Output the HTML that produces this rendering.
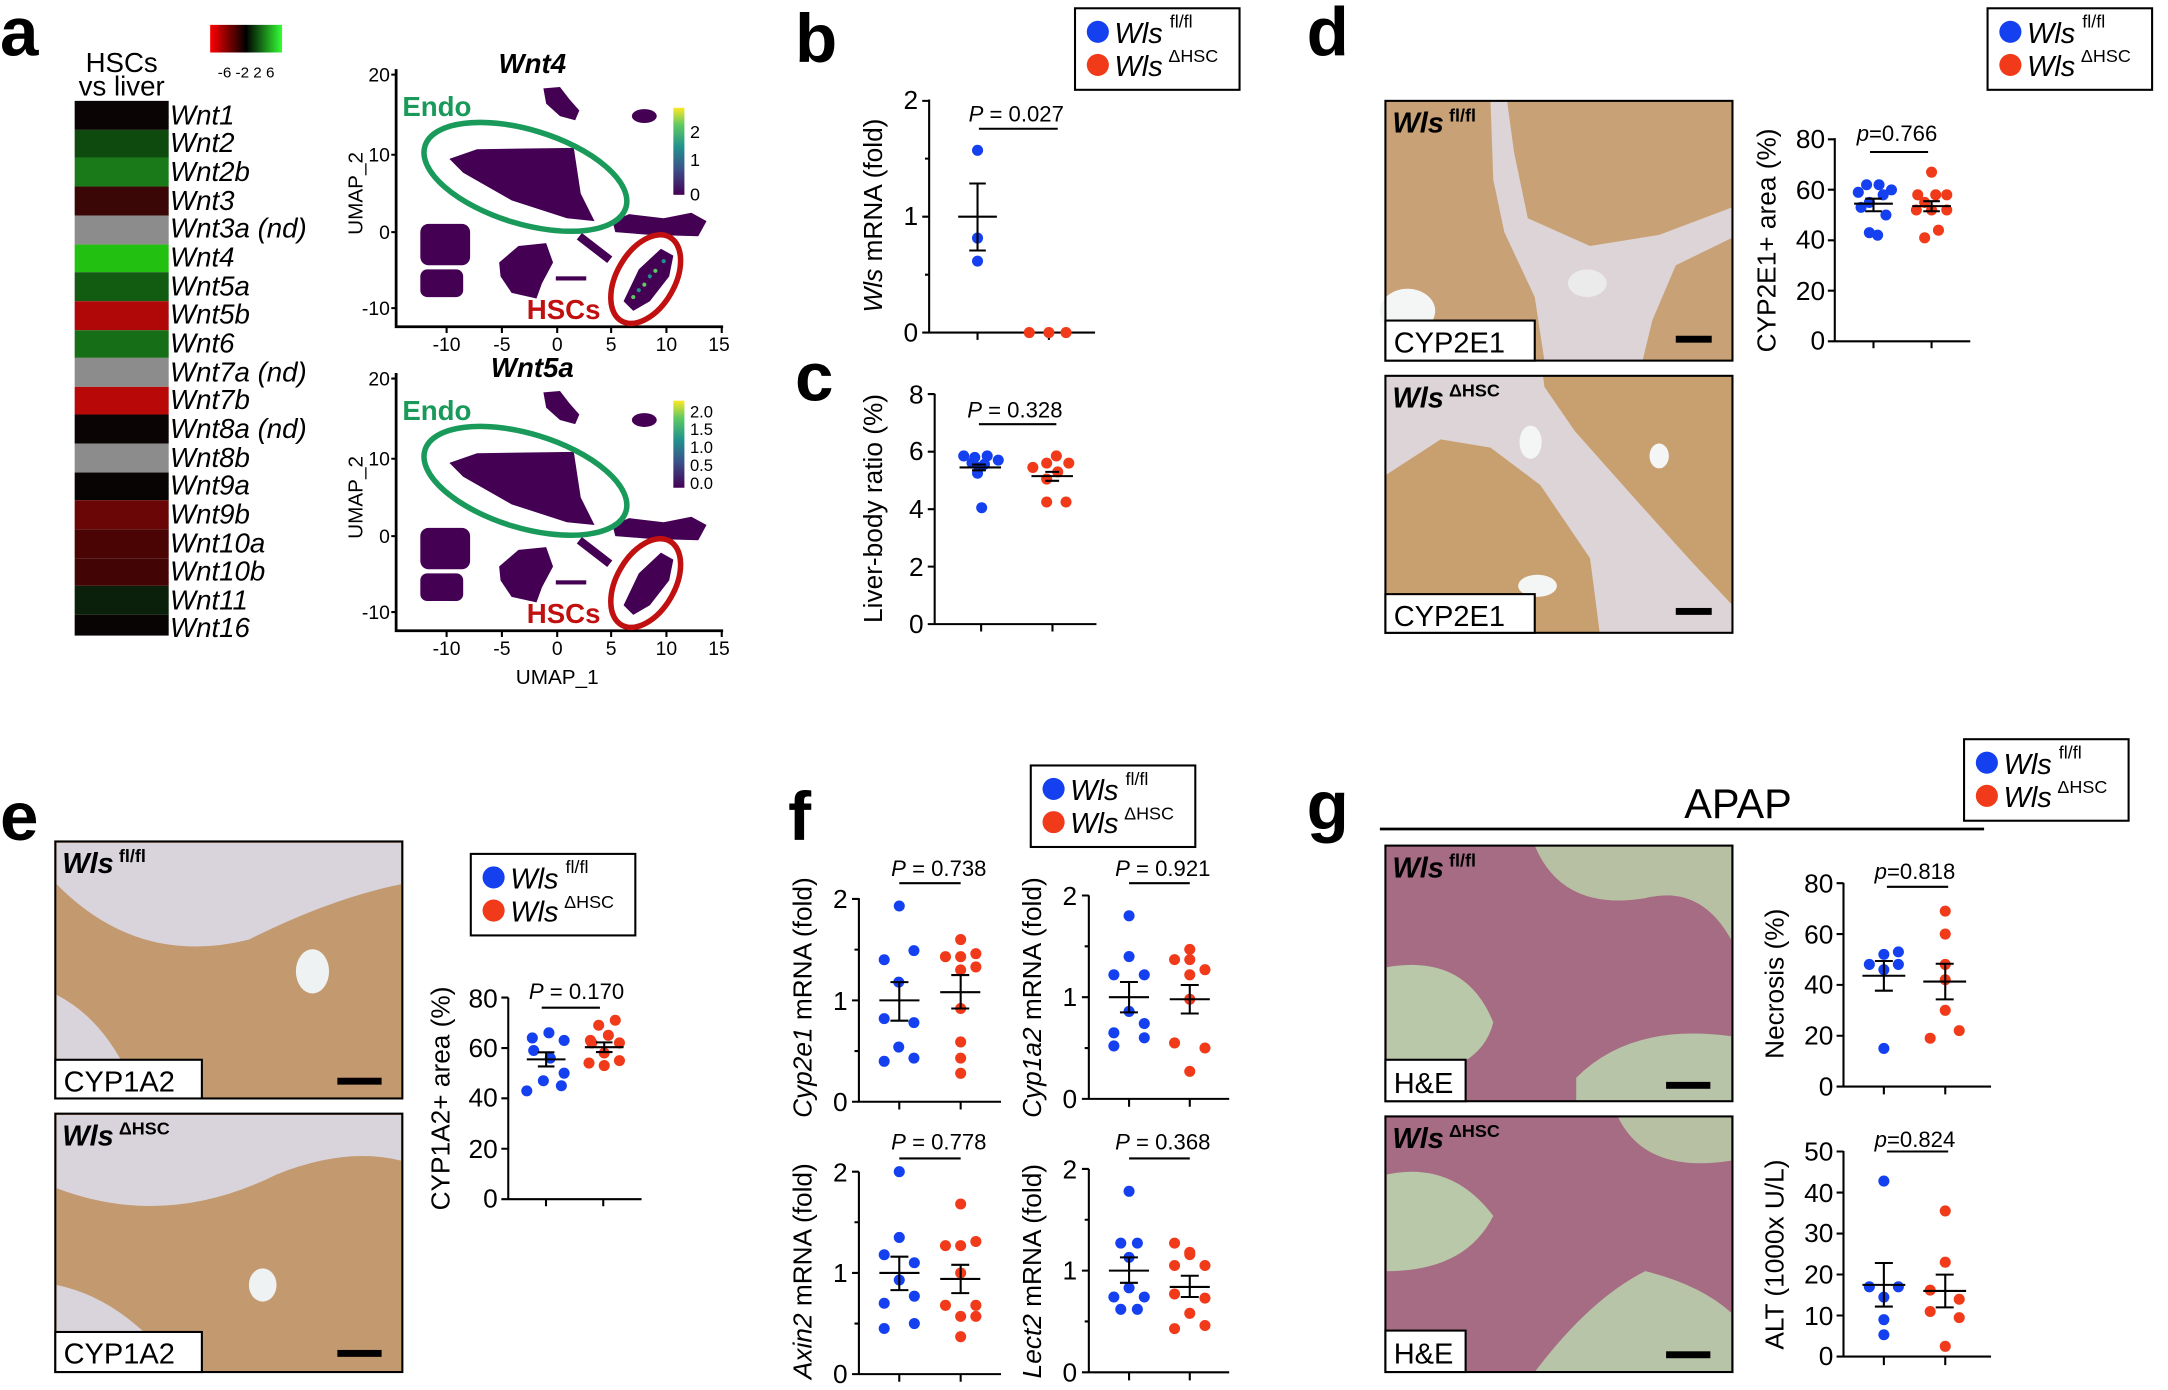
<!DOCTYPE html><html><head><style>body{margin:0;background:#fff}svg{display:block}text{font-family:"Liberation Sans",sans-serif}</style></head><body>
<svg width="2168" height="1390" viewBox="0 0 1568 1006" preserveAspectRatio="none" xmlns="http://www.w3.org/2000/svg">
<defs>
<linearGradient id="cb" x1="0" y1="0" x2="1" y2="0"><stop offset="0" stop-color="#f00"/><stop offset=".5" stop-color="#000"/><stop offset="1" stop-color="#3f3"/></linearGradient>
<linearGradient id="vir" x1="0" y1="1" x2="0" y2="0"><stop offset="0" stop-color="#440154"/><stop offset=".3" stop-color="#3b528b"/><stop offset=".55" stop-color="#21918c"/><stop offset=".8" stop-color="#5ec962"/><stop offset="1" stop-color="#fde725"/></linearGradient>
<g id="clu" fill="#440154">
<path d="M325 115L345 108L415 107L420 140L430 160L410 158L370 145L335 125Z"/>
<path d="M393 64L405 63L412 72L419 80L416 87L405 84L395 75Z"/>
<ellipse cx="466" cy="84" rx="9" ry="5"/>
<path d="M443 160L455 155L480 158L500 154L511 160L505 171L470 170L445 168Z"/>
<rect x="304" y="162" width="36" height="30" rx="6"/><rect x="304" y="195" width="31" height="20" rx="5"/>
<path d="M361 190L375 178L395 176L400 190L392 205L388 216L370 212L362 200Z"/>
<path d="M419 171L441 188" stroke="#440154" stroke-width="6"/>
<rect x="402" y="200" width="22" height="3"/>
<path d="M451 218L462 195L478 180L487 185L484 200L470 218L458 225Z"/>
</g>
</defs>
<g font-weight="bold" font-size="50">
<text x="0" y="40">a</text><text x="575" y="45">b</text><text x="575" y="290">c</text><text x="945" y="40">d</text><text x="0" y="608">e</text><text x="570" y="608">f</text><text x="945" y="600">g</text></g>
<!-- heatmap -->
<text x="88" y="52" font-size="20" text-anchor="middle">HSCs</text><text x="88" y="69" font-size="20" text-anchor="middle">vs liver</text>
<rect x="152" y="18" width="52" height="20" fill="url(#cb)"/>
<text x="178" y="56" font-size="11" text-anchor="middle">-6 -2  2  6</text>
<g>
<rect x="54" y="73" width="68" height="21" fill="#0a0404"/>
<rect x="54" y="94" width="68" height="20" fill="#0e4a0e"/>
<rect x="54" y="114" width="68" height="21" fill="#1a7a1a"/>
<rect x="54" y="135" width="68" height="21" fill="#3a0606"/>
<rect x="54" y="156" width="68" height="21" fill="#8c8c8c"/>
<rect x="54" y="177" width="68" height="20" fill="#22c010"/>
<rect x="54" y="197" width="68" height="21" fill="#125c12"/>
<rect x="54" y="218" width="68" height="21" fill="#b00808"/>
<rect x="54" y="239" width="68" height="20" fill="#166e16"/>
<rect x="54" y="259" width="68" height="21" fill="#8c8c8c"/>
<rect x="54" y="280" width="68" height="20" fill="#b80808"/>
<rect x="54" y="300" width="68" height="21" fill="#0a0404"/>
<rect x="54" y="321" width="68" height="21" fill="#8c8c8c"/>
<rect x="54" y="342" width="68" height="20" fill="#080404"/>
<rect x="54" y="362" width="68" height="21" fill="#6a0606"/>
<rect x="54" y="383" width="68" height="21" fill="#4a0404"/>
<rect x="54" y="404" width="68" height="20" fill="#420404"/>
<rect x="54" y="424" width="68" height="21" fill="#0a200a"/>
<rect x="54" y="445" width="68" height="15" fill="#080404"/>
</g>
<g font-size="20" font-style="italic">
<text x="123" y="90">Wnt1</text><text x="123" y="110">Wnt2</text><text x="123" y="131">Wnt2b</text><text x="123" y="152">Wnt3</text><text x="123" y="172">Wnt3a (nd)</text><text x="123" y="193">Wnt4</text><text x="123" y="214">Wnt5a</text><text x="123" y="234">Wnt5b</text><text x="123" y="255">Wnt6</text><text x="123" y="276">Wnt7a (nd)</text><text x="123" y="296">Wnt7b</text><text x="123" y="317">Wnt8a (nd)</text><text x="123" y="338">Wnt8b</text><text x="123" y="358">Wnt9a</text><text x="123" y="379">Wnt9b</text><text x="123" y="400">Wnt10a</text><text x="123" y="420">Wnt10b</text><text x="123" y="441">Wnt11</text><text x="123" y="461">Wnt16</text></g>
<!-- UMAP top -->
<g id="umap">
<path d="M286.5 50V236.5H523" fill="none" stroke="#000" stroke-width="2"/>
<path d="M283 54H287M283 112H287M283 168H287M283 223H287M323 237V241M363 237V241M403 237V241M442 237V241M482 237V241M522 237V241" stroke="#000" stroke-width="1.5"/>
<use href="#clu"/>
<g font-size="14" text-anchor="middle"><text x="323" y="254">-10</text><text x="363" y="254">-5</text><text x="403" y="254">0</text><text x="442" y="254">5</text><text x="482" y="254">10</text><text x="520" y="254">15</text></g>
<g font-size="14" text-anchor="end"><text x="282" y="59">20</text><text x="282" y="117">10</text><text x="282" y="173">0</text><text x="282" y="228">-10</text></g>
<text transform="translate(262 140) rotate(-90)" font-size="15" text-anchor="middle">UMAP_2</text>
<ellipse cx="380" cy="128" rx="76" ry="34" transform="rotate(17 380 128)" fill="none" stroke="#1a9a5a" stroke-width="4"/>
<ellipse cx="467" cy="202" rx="35" ry="21" transform="rotate(-60 467 202)" fill="none" stroke="#c01010" stroke-width="4"/>
<text x="291" y="84" font-size="20" font-weight="bold" fill="#1a9a5a">Endo</text>
<text x="381" y="231" font-size="20" font-weight="bold" fill="#c01010">HSCs</text>
</g>
<g fill="#5ec962"><circle cx="458" cy="215" r="1.5"/><circle cx="466" cy="206" r="1.5"/><circle cx="474" cy="196" r="1.5"/></g>
<g fill="#21918c"><circle cx="462" cy="210" r="1.5"/><circle cx="470" cy="200" r="1.5"/><circle cx="480" cy="189" r="1.5"/></g>
<rect x="487" y="78" width="8" height="63" fill="url(#vir)"/>
<text x="499" y="100" font-size="13">2</text><text x="499" y="120" font-size="13">1</text><text x="499" y="145" font-size="13">0</text>
<text x="385" y="53" font-size="20" font-weight="bold" font-style="italic" text-anchor="middle">Wnt4</text>
<use href="#umap" y="220"/>
<rect x="487" y="290" width="8" height="63" fill="url(#vir)"/>
<g font-size="12"><text x="499" y="302">2.0</text><text x="499" y="315">1.5</text><text x="499" y="328">1.0</text><text x="499" y="341">0.5</text><text x="499" y="354">0.0</text></g>
<text x="385" y="273" font-size="20" font-weight="bold" font-style="italic" text-anchor="middle">Wnt5a</text>
<text x="403" y="495" font-size="15" text-anchor="middle">UMAP_1</text>
<!-- legends -->
<g id="lg">
<rect x="777.5" y="6" width="119" height="59" fill="#fff" stroke="#000" stroke-width="1.5"/>
<circle cx="794" cy="23" r="8" fill="#1540f0"/><circle cx="794" cy="47" r="8" fill="#f03a1a"/>
<text x="806" y="31" font-size="21" font-style="italic">Wls</text><text x="846" y="20" font-size="13">fl/fl</text>
<text x="806" y="55" font-size="21" font-style="italic">Wls</text><text x="845" y="45" font-size="13">ΔHSC</text>
</g>
<use href="#lg" x="660" y="0"/><use href="#lg" x="-437" y="612"/><use href="#lg" x="-32" y="548"/><use href="#lg" x="643" y="529"/>
<!-- axes -->
<g stroke="#000" stroke-width="1.5" fill="none">
<path d="M672 72V240.7H792M667 73H672M667 156.8H672M669 114.8H672M669 198.8H672M667 240.7H672M707 240.7V246M758.6 240.7V246M708 93.2H765"/>
<path d="M676 285V451.7H793M671 285.2H676M671 326.9H676M671 368.5H676M671 410.1H676M671 451.7H676M709.6 451.7V457M761.2 451.7V457M708 307H764"/>
<path d="M1327 100V247H1425M1322 100.8H1327M1322 137.3H1327M1322 173.9H1327M1322 210.4H1327M1322 247H1327M1355 247V252M1397 247V252M1352.5 110H1394.5"/>
<path d="M367.6 722V867.9H464M362.6 722H367.6M362.6 758.5H367.6M362.6 794.9H367.6M362.6 831.4H367.6M362.6 867.9H367.6M394.9 867.9V873M436.3 867.9V873M391.8 729.3H433.9"/>
<path d="M621.2 650V797.4H724M616.2 650.6H621.2M618 687.3H621.2M616.2 724H621.2M618 760.7H621.2M616.2 797.4H621.2M650.4 797.4V803M694.8 797.4V803M650.4 639.2H694.8"/>
<path d="M787.5 648V795.3H889M782.5 648.1H787.5M784.5 684.9H787.5M782.5 721.7H787.5M784.5 758.5H787.5M782.5 795.3H787.5M816.6 795.3V801M860.5 795.3V801M816.6 639.2H860.5"/>
<path d="M621.2 848V994.5H724M616.2 848H621.2M618 884.6H621.2M616.2 921.3H621.2M618 957.9H621.2M616.2 994.5H621.2M650.4 994.5V1000M694.8 994.5V1000M650.4 838.4H694.8"/>
<path d="M787.5 846V993.2H889M782.5 846H787.5M784.5 882.8H787.5M782.5 919.6H787.5M784.5 956.4H787.5M782.5 993.2H787.5M816.6 993.2V999M860.5 993.2V999M816.6 838.4H860.5"/>
<path d="M1333.3 639V786.4H1440M1328.3 639.2H1333.3M1328.3 676H1333.3M1328.3 712.8H1333.3M1328.3 749.6H1333.3M1328.3 786.4H1333.3M1362.5 786.4V792M1406.9 786.4V792M1364.7 641.8H1409"/>
<path d="M1333.3 833V981.8H1440M1328.3 833.4H1333.3M1328.3 863.1H1333.3M1328.3 892.8H1333.3M1328.3 922.4H1333.3M1328.3 952.1H1333.3M1328.3 981.8H1333.3M1362.5 981.8V988M1406.9 981.8V988M1364.7 833.4H1409"/>
<path d="M998 600H1435" stroke-width="2"/>
</g>
<g font-size="19" text-anchor="end">
<text x="664" y="79">2</text><text x="664" y="163">1</text><text x="664" y="247">0</text>
<text x="668" y="292">8</text><text x="668" y="333">6</text><text x="668" y="375">4</text><text x="668" y="417">2</text><text x="668" y="458">0</text>
<text x="1320" y="107">80</text><text x="1320" y="144">60</text><text x="1320" y="180">40</text><text x="1320" y="217">20</text><text x="1320" y="253">0</text>
<text x="360" y="729">80</text><text x="360" y="765">60</text><text x="360" y="801">40</text><text x="360" y="838">20</text><text x="360" y="874">0</text>
<text x="613" y="657">2</text><text x="613" y="731">1</text><text x="613" y="804">0</text>
<text x="779" y="655">2</text><text x="779" y="728">1</text><text x="779" y="802">0</text>
<text x="613" y="855">2</text><text x="613" y="928">1</text><text x="613" y="1001">0</text>
<text x="779" y="853">2</text><text x="779" y="926">1</text><text x="779" y="1000">0</text>
<text x="1326" y="646">80</text><text x="1326" y="683">60</text><text x="1326" y="719">40</text><text x="1326" y="756">20</text><text x="1326" y="793">0</text>
<text x="1326" y="840">50</text><text x="1326" y="870">40</text><text x="1326" y="899">30</text><text x="1326" y="929">20</text><text x="1326" y="959">10</text><text x="1326" y="988">0</text>
</g>
<g font-size="19" text-anchor="middle">
<text transform="translate(638 156) rotate(-90)"><tspan font-style="italic">Wls</tspan> mRNA (fold)</text>
<text transform="translate(638 368) rotate(-90)">Liver-body ratio (%)</text>
<text transform="translate(1284 174) rotate(-90)">CYP2E1+ area (%)</text>
<text transform="translate(325 795) rotate(-90)">CYP1A2+ area (%)</text>
<text transform="translate(587 722) rotate(-90)"><tspan font-style="italic">Cyp2e1</tspan> mRNA (fold)</text>
<text transform="translate(753 722) rotate(-90)"><tspan font-style="italic">Cyp1a2</tspan> mRNA (fold)</text>
<text transform="translate(587 920) rotate(-90)"><tspan font-style="italic">Axin2</tspan> mRNA (fold)</text>
<text transform="translate(753 920) rotate(-90)"><tspan font-style="italic">Lect2</tspan> mRNA (fold)</text>
<text transform="translate(1290 712) rotate(-90)">Necrosis (%)</text>
<text transform="translate(1290 908) rotate(-90)">ALT (1000x U/L)</text>
</g>
<g font-size="16" text-anchor="middle">
<text x="735" y="88"><tspan font-style="italic">P</tspan> = 0.027</text>
<text x="734" y="302"><tspan font-style="italic">P</tspan> = 0.328</text>
<text x="1372" y="102"><tspan font-style="italic">p</tspan>=0.766</text>
<text x="417" y="723"><tspan font-style="italic">P</tspan> = 0.170</text>
<text x="679" y="634"><tspan font-style="italic">P</tspan> = 0.738</text>
<text x="841" y="634"><tspan font-style="italic">P</tspan> = 0.921</text>
<text x="679" y="832"><tspan font-style="italic">P</tspan> = 0.778</text>
<text x="841" y="832"><tspan font-style="italic">P</tspan> = 0.368</text>
<text x="1385" y="636"><tspan font-style="italic">p</tspan>=0.818</text>
<text x="1385" y="830"><tspan font-style="italic">p</tspan>=0.824</text>
</g>
<text x="1257" y="592" font-size="30" text-anchor="middle">APAP</text>
<!-- points -->
<g fill="#1540f0">
<circle cx="707" cy="108.8" r="4"/><circle cx="707" cy="172.3" r="4"/><circle cx="707" cy="189" r="4"/>
<circle cx="697" cy="330" r="4"/><circle cx="705" cy="331" r="4"/><circle cx="714" cy="330" r="4"/><circle cx="722" cy="333" r="4"/><circle cx="703" cy="335" r="4"/><circle cx="712" cy="336" r="4"/><circle cx="708" cy="338.3" r="4"/><circle cx="707" cy="342.5" r="4"/><circle cx="710" cy="367.5" r="4"/>
<circle cx="1350" cy="133.7" r="4"/><circle cx="1359" cy="133.7" r="4"/><circle cx="1368" cy="137.4" r="4"/><circle cx="1344" cy="139.2" r="4"/><circle cx="1362" cy="141" r="4"/><circle cx="1352" cy="146.5" r="4"/><circle cx="1346" cy="150.1" r="4"/><circle cx="1364" cy="155.6" r="4"/><circle cx="1352" cy="168.4" r="4"/><circle cx="1358" cy="170.2" r="4"/>
<circle cx="397" cy="747.5" r="4"/><circle cx="385" cy="751.2" r="4"/><circle cx="408" cy="753" r="4"/><circle cx="386" cy="760.3" r="4"/><circle cx="398" cy="765.8" r="4"/><circle cx="408" cy="776.7" r="4"/><circle cx="393" cy="782.2" r="4"/><circle cx="406" cy="785.8" r="4"/><circle cx="381" cy="789.5" r="4"/>
<circle cx="650.4" cy="655.7" r="4"/><circle cx="661" cy="688" r="4"/><circle cx="639.5" cy="694.6" r="4"/><circle cx="650" cy="710.8" r="4"/><circle cx="639.5" cy="737.2" r="4"/><circle cx="661" cy="740.1" r="4"/><circle cx="650" cy="757.8" r="4"/><circle cx="661" cy="765.8" r="4"/><circle cx="639.5" cy="768.1" r="4"/>
<circle cx="816.6" cy="662.8" r="4"/><circle cx="816.6" cy="692.3" r="4"/><circle cx="805.6" cy="705.5" r="4"/><circle cx="827.6" cy="705.5" r="4"/><circle cx="816.6" cy="732" r="4"/><circle cx="827.6" cy="740.8" r="4"/><circle cx="805.6" cy="747.5" r="4"/><circle cx="827.6" cy="751.1" r="4"/><circle cx="805.6" cy="757" r="4"/>
<circle cx="650.4" cy="848" r="4"/><circle cx="650.4" cy="895.6" r="4"/><circle cx="639.5" cy="908.1" r="4"/><circle cx="661.3" cy="913.9" r="4"/><circle cx="650.4" cy="926.4" r="4"/><circle cx="661.3" cy="938.1" r="4"/><circle cx="639.5" cy="943.2" r="4"/><circle cx="661.3" cy="957.9" r="4"/><circle cx="639.5" cy="961.5" r="4"/>
<circle cx="816.6" cy="862.2" r="4"/><circle cx="810.6" cy="899.7" r="4"/><circle cx="822.6" cy="899.7" r="4"/><circle cx="816.6" cy="910" r="4"/><circle cx="816.6" cy="932.1" r="4"/><circle cx="805.6" cy="938.7" r="4"/><circle cx="827.6" cy="938.7" r="4"/><circle cx="810.6" cy="947.6" r="4"/><circle cx="822.6" cy="947.6" r="4"/>
<circle cx="1373" cy="688.9" r="4"/><circle cx="1362.5" cy="690.7" r="4"/><circle cx="1352" cy="698" r="4"/><circle cx="1373" cy="698" r="4"/><circle cx="1362.5" cy="701.8" r="4"/><circle cx="1362.5" cy="758.8" r="4"/>
<circle cx="1362.5" cy="854.8" r="4"/><circle cx="1352" cy="931.3" r="4"/><circle cx="1373" cy="931.3" r="4"/><circle cx="1362.5" cy="938.8" r="4"/><circle cx="1362.5" cy="955.1" r="4"/><circle cx="1362.5" cy="966" r="4"/>
</g>
<g fill="#f03a1a">
<circle cx="744.4" cy="240.7" r="4"/><circle cx="758.6" cy="240.7" r="4"/><circle cx="771" cy="240.7" r="4"/>
<circle cx="764" cy="330" r="4"/><circle cx="757" cy="335.2" r="4"/><circle cx="773" cy="335.2" r="4"/><circle cx="747" cy="338.3" r="4"/><circle cx="765" cy="341.5" r="4"/><circle cx="757" cy="346.7" r="4"/><circle cx="757" cy="363.3" r="4"/><circle cx="771" cy="363.3" r="4"/>
<circle cx="1397" cy="124.6" r="4"/><circle cx="1387" cy="141" r="4"/><circle cx="1400" cy="141" r="4"/><circle cx="1408" cy="141" r="4"/><circle cx="1392" cy="146.5" r="4"/><circle cx="1386" cy="152" r="4"/><circle cx="1397" cy="152" r="4"/><circle cx="1408" cy="152" r="4"/><circle cx="1402" cy="166.6" r="4"/><circle cx="1392" cy="172.1" r="4"/>
<circle cx="445" cy="738.4" r="4"/><circle cx="433" cy="742" r="4"/><circle cx="440" cy="749.3" r="4"/><circle cx="427" cy="753" r="4"/><circle cx="448" cy="754.8" r="4"/><circle cx="428" cy="754.8" r="4"/><circle cx="437" cy="762.1" r="4"/><circle cx="448" cy="767.6" r="4"/><circle cx="426" cy="769.4" r="4"/><circle cx="437" cy="771.2" r="4"/>
<circle cx="694.8" cy="680" r="4"/><circle cx="683.8" cy="692.4" r="4"/><circle cx="694.8" cy="692.4" r="4"/><circle cx="705.8" cy="690.2" r="4"/><circle cx="694.8" cy="702" r="4"/><circle cx="705.8" cy="699.8" r="4"/><circle cx="694.8" cy="729.9" r="4"/><circle cx="694.8" cy="754.1" r="4"/><circle cx="694.8" cy="765.8" r="4"/><circle cx="694.8" cy="776.8" r="4"/>
<circle cx="860.5" cy="687.1" r="4"/><circle cx="849.5" cy="694.5" r="4"/><circle cx="860.5" cy="694.5" r="4"/><circle cx="871.5" cy="701.8" r="4"/><circle cx="860.5" cy="705.5" r="4"/><circle cx="860.5" cy="723.2" r="4"/><circle cx="849.5" cy="754.8" r="4"/><circle cx="871.5" cy="758.5" r="4"/><circle cx="860.5" cy="775.4" r="4"/>
<circle cx="694.8" cy="871.4" r="4"/><circle cx="705.8" cy="898.5" r="4"/><circle cx="683.8" cy="901.5" r="4"/><circle cx="694.8" cy="901.5" r="4"/><circle cx="694.8" cy="921.3" r="4"/><circle cx="683.8" cy="944.7" r="4"/><circle cx="705.8" cy="944.7" r="4"/><circle cx="694.8" cy="952.7" r="4"/><circle cx="705.8" cy="952.7" r="4"/><circle cx="694.8" cy="967.4" r="4"/>
<circle cx="849.5" cy="899.7" r="4"/><circle cx="860.5" cy="906.4" r="4"/><circle cx="849.5" cy="915.9" r="4"/><circle cx="871.5" cy="915.9" r="4"/><circle cx="849.5" cy="936.5" r="4"/><circle cx="871.5" cy="939.5" r="4"/><circle cx="860.5" cy="950.5" r="4"/><circle cx="871.5" cy="959.3" r="4"/><circle cx="849.5" cy="961.6" r="4"/><circle cx="860.5" cy="908" r="4"/>
<circle cx="1406.9" cy="659.4" r="4"/><circle cx="1406.9" cy="676" r="4"/><circle cx="1406.9" cy="698" r="4"/><circle cx="1406.9" cy="709.1" r="4"/><circle cx="1406.9" cy="731.2" r="4"/><circle cx="1417" cy="745.9" r="4"/><circle cx="1396" cy="751.4" r="4"/>
<circle cx="1406.9" cy="876.4" r="4"/><circle cx="1406.9" cy="913.5" r="4"/><circle cx="1396" cy="933.7" r="4"/><circle cx="1417" cy="940.3" r="4"/><circle cx="1396" cy="949.2" r="4"/><circle cx="1417" cy="953.6" r="4"/><circle cx="1406.9" cy="974.4" r="4"/>
</g>
<!-- mean/err -->
<g stroke="#000" stroke-width="1.5" fill="none">
<path d="M693 156.8H721M707 132.8V181.3M701 132.8H713M701 181.3H713"/>
<path d="M694 338.3H724M703 336.2H713M703 340.4H713M746 344.6H776M756 341.5H766M756 348H766"/>
<path d="M1341 147.4H1369M1355 143.8V152.9M1349 143.8H1361M1349 152.9H1361M1383 149.2H1411M1397 145.6V152.9M1391 145.6H1403M1391 152.9H1403"/>
<path d="M381 766.7H409M395 761.6V771.8M389 761.6H401M389 771.8H401M423 757.9H451M437 754.4V761.4M431 754.4H443M431 761.4H443"/>
<path d="M636 724H665M650.4 710.8V738.7M644 710.8H657M644 738.7H657M680 718.1H709M694.8 705.7V729.9M688 705.7H701M688 729.9H701"/>
<path d="M802 721.7H831M816.6 710.7V732.7M810 710.7H823M810 732.7H823M846 723.2H875M860.5 712.9V733.5M854 712.9H867M854 733.5H867"/>
<path d="M636 921.3H665M650.4 909.5V933.7M644 909.5H657M644 933.7H657M680 925.6H709M694.8 915.4V935.9M688 915.4H701M688 935.9H701"/>
<path d="M802 919.6H831M816.6 910V928.4M810 910H823M810 928.4H823M846 931.4H875M860.5 923.3V938.7M854 923.3H867M854 938.7H867"/>
<path d="M1347 706.2H1378M1362.5 695.5V717M1356 695.5H1369M1356 717H1369M1391 710.4H1422M1406.9 697.5V723.3M1400 697.5H1413M1400 723.3H1413"/>
<path d="M1347 929.9H1378M1362.5 914.1V945.6M1356 914.1H1369M1356 945.6H1369M1391 934.3H1422M1406.9 922.5V946.2M1400 922.5H1413M1400 946.2H1413"/>
</g>
<!-- d histology -->
<rect x="1002" y="73" width="251" height="188" fill="#c8a276"/>
<path d="M1078 73L1090 73L1095 110L1105 158L1150 178L1200 170L1253 150L1253 172L1212 192L1195 232L1188 261L1117 261L1110 215L1088 168L1080 130Z" fill="#dcd4d6"/>
<ellipse cx="1018" cy="225" rx="20" ry="16" fill="#f4f6f6"/>
<ellipse cx="1148" cy="205" rx="14" ry="10" fill="#ebebeb"/>
<rect x="1002" y="73" width="251" height="188" fill="none" stroke="#000" stroke-width="1.5"/>
<text x="1007" y="96" font-size="21" font-weight="bold" font-style="italic">Wls</text><text x="1048" y="88" font-size="13" font-weight="bold">fl/fl</text>
<rect x="1002" y="232" width="108" height="29" fill="#fff" stroke="#000" stroke-width="1.5"/><text x="1008" y="255" font-size="21">CYP2E1</text>
<rect x="1212" y="243" width="26" height="5" fill="#000"/>
<rect x="1002" y="272" width="251" height="186" fill="#dcd4d6"/>
<path d="M1002 344L1042 318L1078 324L1114 351L1150 404L1157 458L1002 458Z" fill="#c8a070"/>
<path d="M1116 272L1253 272L1253 438L1223 406L1187 366L1139 312L1117 280Z" fill="#c8a070"/>
<ellipse cx="1107" cy="320" rx="8" ry="12" fill="#f4f6f6"/><ellipse cx="1112" cy="424" rx="14" ry="8" fill="#f4f6f6"/><ellipse cx="1200" cy="330" rx="7" ry="9" fill="#f4f6f6"/>
<rect x="1002" y="272" width="251" height="186" fill="none" stroke="#000" stroke-width="1.5"/>
<text x="1007" y="295" font-size="21" font-weight="bold" font-style="italic">Wls</text><text x="1048" y="287" font-size="13" font-weight="bold">ΔHSC</text>
<rect x="1002" y="430" width="108" height="28" fill="#fff" stroke="#000" stroke-width="1.5"/><text x="1008" y="453" font-size="21">CYP2E1</text>
<rect x="1212" y="440" width="26" height="5" fill="#000"/>
<!-- e histology -->
<rect x="40" y="609" width="251" height="186" fill="#c39a70"/>
<path d="M41 640Q100 700 180 680Q240 650 290 640V610H41Z" fill="#d9d4dc"/>
<path d="M41 720Q80 740 100 795H41Z" fill="#d9d4dc"/>
<ellipse cx="226" cy="703" rx="12" ry="16" fill="#eef2f2"/>
<rect x="40" y="609" width="251" height="186" fill="none" stroke="#000" stroke-width="1.5"/>
<text x="45" y="632" font-size="21" font-weight="bold" font-style="italic">Wls</text><text x="86" y="624" font-size="13" font-weight="bold">fl/fl</text>
<rect x="40" y="767" width="106" height="28" fill="#fff" stroke="#000" stroke-width="1.5"/><text x="46" y="790" font-size="21">CYP1A2</text>
<rect x="244" y="780" width="32" height="5" fill="#000"/>
<rect x="40" y="806" width="251" height="187" fill="#c39a70"/>
<path d="M41 860Q120 890 200 850Q250 830 290 840V807H41Z" fill="#d9d4dc"/>
<path d="M41 930Q90 940 130 993H41Z" fill="#d9d4dc"/>
<ellipse cx="190" cy="930" rx="10" ry="12" fill="#eef2f2"/>
<rect x="40" y="806" width="251" height="187" fill="none" stroke="#000" stroke-width="1.5"/>
<text x="45" y="829" font-size="21" font-weight="bold" font-style="italic">Wls</text><text x="86" y="821" font-size="13" font-weight="bold">ΔHSC</text>
<rect x="40" y="964" width="106" height="29" fill="#fff" stroke="#000" stroke-width="1.5"/><text x="46" y="987" font-size="21">CYP1A2</text>
<rect x="244" y="977" width="32" height="5" fill="#000"/>
<!-- g histology -->
<rect x="1002" y="612" width="251" height="185" fill="#a66c84"/>
<path d="M1003 700Q1060 690 1080 740Q1070 780 1003 780Z" fill="#b8c8a8"/>
<path d="M1110 612Q1130 660 1190 650Q1230 640 1252 680V612Z" fill="#b8c0a4"/>
<path d="M1140 780Q1180 740 1252 750V797H1140Z" fill="#b8c4a8"/>
<rect x="1002" y="612" width="251" height="185" fill="none" stroke="#000" stroke-width="1.5"/>
<text x="1007" y="635" font-size="21" font-weight="bold" font-style="italic">Wls</text><text x="1048" y="627" font-size="13" font-weight="bold">fl/fl</text>
<rect x="1002" y="767" width="58" height="30" fill="#fff" stroke="#000" stroke-width="1.5"/><text x="1008" y="791" font-size="21">H&amp;E</text>
<rect x="1205" y="783" width="32" height="5" fill="#000"/>
<rect x="1002" y="808" width="251" height="185" fill="#a66c84"/>
<path d="M1003 850Q1050 840 1080 880Q1060 920 1003 920Z" fill="#b8c8a8"/>
<path d="M1170 808Q1190 850 1252 840V808Z" fill="#b8c0a4"/>
<path d="M1110 993Q1150 940 1190 920Q1230 930 1252 950V993Z" fill="#b8c4a8"/>
<rect x="1002" y="808" width="251" height="185" fill="none" stroke="#000" stroke-width="1.5"/>
<text x="1007" y="831" font-size="21" font-weight="bold" font-style="italic">Wls</text><text x="1048" y="823" font-size="13" font-weight="bold">ΔHSC</text>
<rect x="1002" y="963" width="58" height="30" fill="#fff" stroke="#000" stroke-width="1.5"/><text x="1008" y="987" font-size="21">H&amp;E</text>
<rect x="1205" y="978" width="32" height="5" fill="#000"/>
</svg>
</body></html>
